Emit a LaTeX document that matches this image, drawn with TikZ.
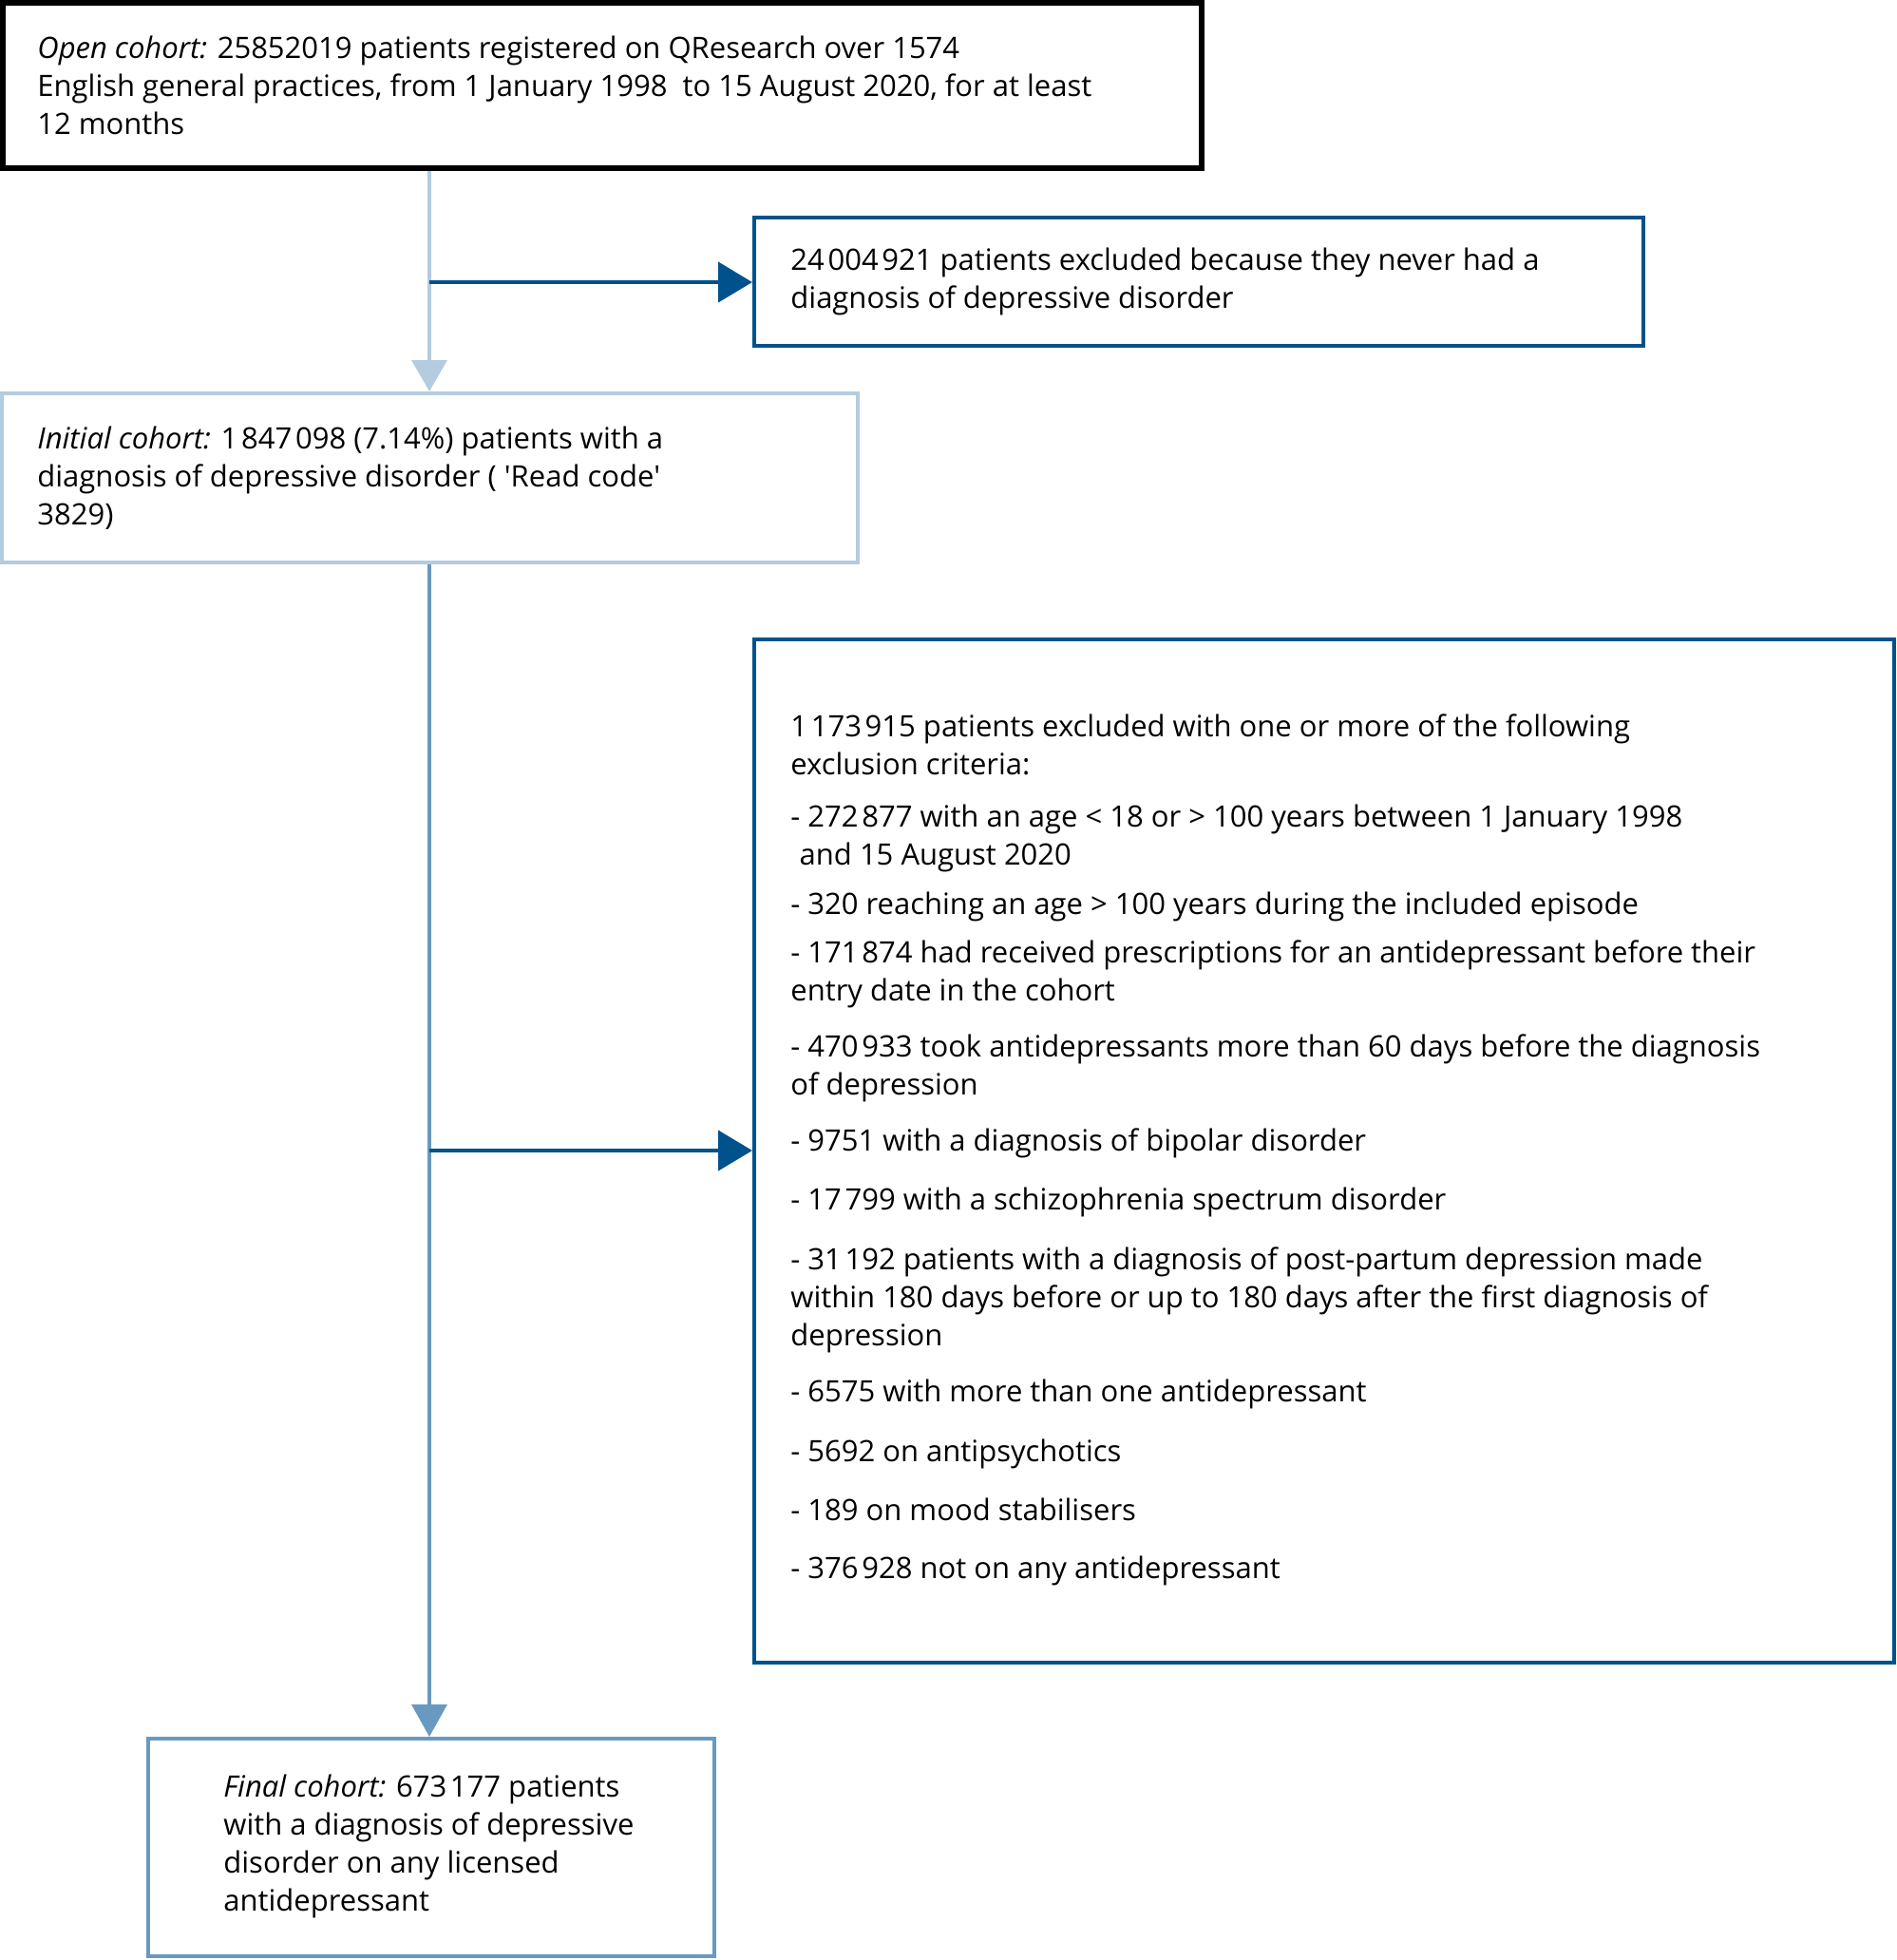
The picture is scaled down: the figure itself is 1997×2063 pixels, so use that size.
\documentclass[tikz,border=0pt]{standalone}
\usepackage{fontspec}
\setmainfont{Open Sans}
\usetikzlibrary{arrows.meta}
\definecolor{dkblue}{RGB}{0,82,140}
\definecolor{ltblue}{RGB}{179,204,224}
\definecolor{mdblue}{RGB}{104,153,192}
\newcommand{\ts}{\kern0.12em}
\tikzset{
  boxnode/.style={draw, line width=2pt, inner sep=0pt, fill=white},
  txt/.style={font=\fontsize{15.5}{20}\selectfont, align=left, anchor=west, inner sep=0pt, text=black},
  ltarrow/.style={draw=ltblue, line width=1.8pt, -{Triangle[length=16.5pt,width=18.5pt]}},
  mdarrow/.style={draw=mdblue, line width=1.8pt, -{Triangle[length=17pt,width=18.5pt]}},
  dkarrow/.style={draw=dkblue, line width=2.2pt, -{Triangle[length=18pt,width=21pt]}}
}
\begin{document}
\begin{tikzpicture}[x=0.5pt,y=-0.5pt]
\fill[white] (0,0) rectangle (1997,2063);
\useasboundingbox (0,0) rectangle (1997,2063);

% boxes
\node[boxnode, draw=black, line width=3pt, minimum width=631pt, minimum height=87pt] (open) at (634,90) {};
\node[boxnode, draw=dkblue, minimum width=468pt, minimum height=67.5pt] (excl1) at (1262,296.5) {};
\node[boxnode, draw=ltblue, minimum width=450.5pt, minimum height=89pt] (initial) at (452.5,503) {};
\node[boxnode, draw=dkblue, minimum width=600pt, minimum height=538.5pt] (excl2) at (1394,1211.5) {};
\node[boxnode, draw=mdblue, minimum width=298pt, minimum height=114.5pt] (final) at (454,1944.5) {};

% texts
\node[txt] (topen) at (39,90) {\textit{Open cohort:} 25852019 patients registered on QResearch over 1574\\
English general practices, from 1 January 1998\ \ to 15 August 2020, for at least\\
12 months};
\node[txt] (texcl1) at (832,296.5) {24\ts004\ts921 patients excluded because they never had a\\
diagnosis of depressive disorder};
\node[txt] (tinitial) at (39,503) {\textit{Initial cohort:} 1\ts847\ts098 (7.14\%) patients with a\\
diagnosis of depressive disorder ( \textquotesingle Read code\textquotesingle\\
3829)};
\node[txt] (texcl2) at (832,1210) {1\ts173\ts915 patients excluded with one or more of the following\\
exclusion criteria:\\[7.5pt]
- 272\ts877 with an age < 18 or > 100 years between 1 January 1998\\
\hspace*{0.3em}and 15 August 2020\\[6pt]
- 320 reaching an age > 100 years during the included episode\\[5.5pt]
- 171\ts874 had received prescriptions for an antidepressant before their\\
entry date in the cohort\\[9.5pt]
- 470\ts933 took antidepressants more than 60 days before the diagnosis\\
of depression\\[9.5pt]
- 9751 with a diagnosis of bipolar disorder\\[11pt]
- 17\ts799 with a schizophrenia spectrum disorder\\[11.5pt]
- 31\ts192 patients with a diagnosis of post-partum depression made\\
within 180 days before or up to 180 days after the first diagnosis of\\
depression\\[9.5pt]
- 6575 with more than one antidepressant\\[11.5pt]
- 5692 on antipsychotics\\[11pt]
- 189 on mood stabilisers\\[10.5pt]
- 376\ts928 not on any antidepressant};
\node[txt] (tfinal) at (235,1943) {\textit{Final cohort:} 673\ts177 patients\\
with a diagnosis of depressive\\
disorder on any licensed\\
antidepressant};

% connectors
\coordinate (j1) at (452,297);
\coordinate (j2) at (452,1211);
\draw[ltarrow] (j1 |- open.south) -- (j1 |- initial.north);
\draw[dkarrow] (j1) -- (j1 -| excl1.west);
\draw[mdarrow] (j2 |- initial.south) -- (j2 |- final.north);
\draw[dkarrow] (j2) -- (j2 -| excl2.west);
\end{tikzpicture}
\end{document}
